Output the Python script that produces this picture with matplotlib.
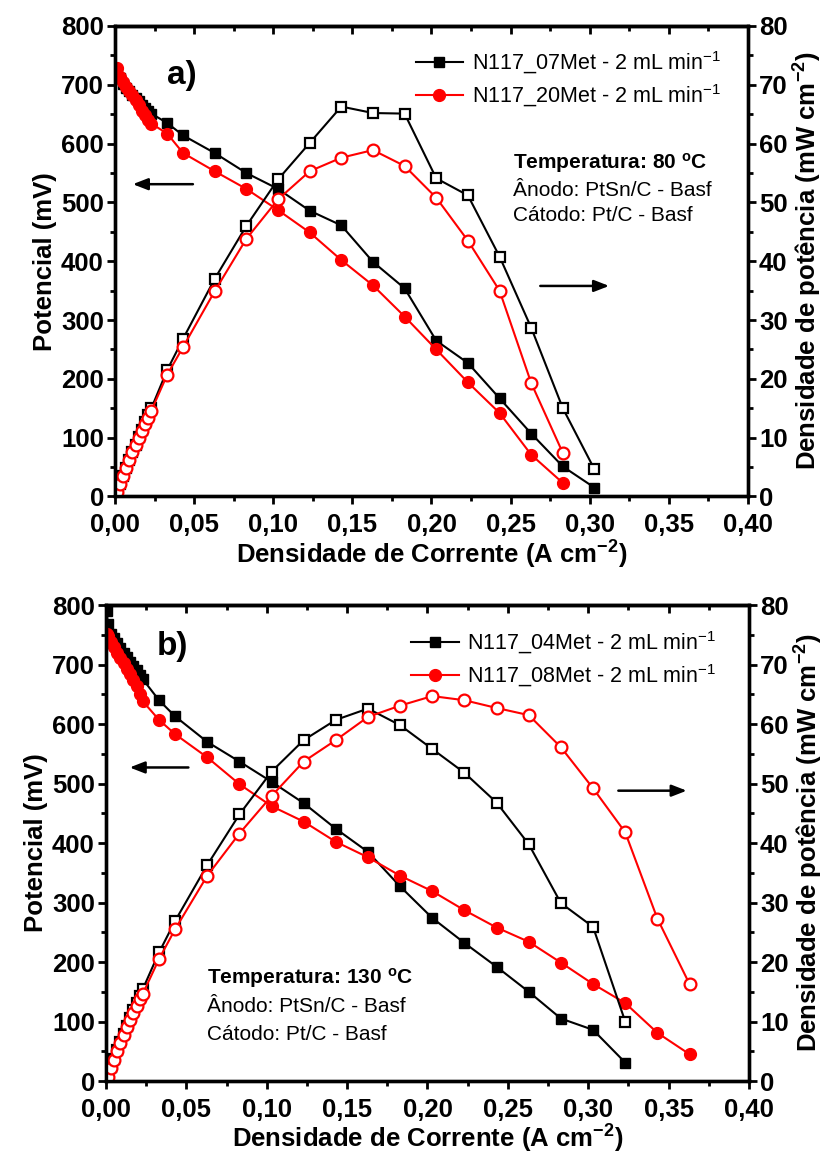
import matplotlib
matplotlib.use("Agg")
import matplotlib.pyplot as plt
from matplotlib.ticker import MultipleLocator, FuncFormatter

plt.rcParams['font.family'] = ['Liberation Sans', 'DejaVu Sans']
plt.rcParams['mathtext.default'] = 'regular'
plt.rcParams['axes.unicode_minus'] = False

# ---- panel a) 80 C ----
xa_dense = [0.001, 0.003, 0.005, 0.007, 0.009, 0.011, 0.013, 0.015, 0.017, 0.019, 0.021, 0.023]
xa_07 = xa_dense + [0.033, 0.043, 0.063, 0.083, 0.103, 0.123, 0.143, 0.163, 0.183,
                    0.203, 0.223, 0.243, 0.263, 0.283, 0.303]
va_07 = [722, 711, 702, 695, 689, 683, 677, 672, 666, 661, 656, 651,
         635, 614, 584, 550, 523, 486, 461, 399, 354, 265, 227, 167, 107, 51, 15]
pa_07 = [0.7, 2.1, 3.5, 4.9, 6.2, 7.5, 8.8, 10.1, 11.3, 12.6, 13.8, 15.0,
         21.5, 26.8, 37.0, 46.0, 53.9, 60.1, 66.3, 65.2, 65.1, 54.1, 51.2, 40.8, 28.7, 15.0, 4.6]

xa_20 = xa_dense + [0.033, 0.043, 0.063, 0.083, 0.103, 0.123, 0.143, 0.163, 0.183,
                    0.203, 0.223, 0.243, 0.263, 0.283]
va_20 = [728, 714, 705, 697, 690, 682, 674, 665, 656, 648, 640, 634,
         617, 584, 553, 523, 487, 449, 402, 359, 306, 250, 194, 142, 71, 23]
pa_20 = [0.7, 2.1, 3.5, 4.9, 6.2, 7.5, 8.8, 10.0, 11.2, 12.3, 13.4, 14.6,
         20.7, 25.4, 34.9, 43.8, 50.5, 55.3, 57.6, 58.9, 56.2, 50.8, 43.5, 35.0, 19.3, 7.4]

# ---- panel b) 130 C ----
xb_dense = [0.0005, 0.001, 0.003, 0.005, 0.007, 0.009, 0.011, 0.013, 0.015, 0.017, 0.019, 0.021, 0.023]
xb_04 = xb_dense + [0.033, 0.043, 0.063, 0.083, 0.103, 0.123, 0.143, 0.163, 0.183,
                    0.203, 0.223, 0.243, 0.263, 0.283, 0.303, 0.323]
vb_04 = [790, 768, 752, 744, 736, 728, 720, 712, 705, 698, 690, 682, 675,
         640, 613, 570, 537, 503, 467, 424, 385, 327, 274, 232, 192, 150, 105, 86, 31]
pb_04 = [0.4, 0.8, 2.3, 3.7, 5.2, 6.6, 7.9, 9.3, 10.6, 11.9, 13.1, 14.3, 15.5,
         21.6, 26.9, 36.3, 44.8, 52.0, 57.3, 60.7, 62.6, 59.8, 55.8, 51.8, 46.8, 39.8, 29.9, 25.9, 10.0]

xb_08 = xb_dense + [0.033, 0.043, 0.063, 0.083, 0.103, 0.123, 0.143, 0.163, 0.183,
                    0.203, 0.223, 0.243, 0.263, 0.283, 0.303, 0.323, 0.343, 0.363]
vb_08 = [752, 748, 738, 729, 720, 711, 702, 693, 684, 674, 664, 651, 638,
         607, 583, 544, 499, 462, 436, 402, 376, 345, 319, 287, 258, 234, 199, 163, 131, 81, 45]
pb_08 = [0.4, 0.7, 2.2, 3.6, 5.0, 6.4, 7.7, 9.0, 10.3, 11.5, 12.6, 13.7, 14.7,
         20.5, 25.5, 34.5, 41.6, 47.9, 53.7, 57.3, 61.2, 63.1, 64.7, 64.0, 62.7, 61.5, 56.1, 49.2, 41.8, 27.3, 16.3]

panels = [
    dict(rect=[0.1377, 0.572, 0.7581, 0.4056], tag="a)", tag_xy=(0.106, 0.894),
         series=[("N117_07Met", xa_07, va_07, pa_07), ("N117_20Met", xa_20, va_20, pa_20)],
         temp="80", note_x=0.629, note_y=[0.708, 0.651, 0.597],
         larrow=(0.051, 0.0095, 531), rarrow=(0.267, 0.314, 358)),
    dict(rect=[0.1269, 0.0681, 0.7701, 0.4103], tag="b)", tag_xy=(0.103, 0.912),
         series=[("N117_04Met", xb_04, vb_04, pb_04), ("N117_08Met", xb_08, vb_08, pb_08)],
         temp="130", note_x=0.157, note_y=[0.216, 0.156, 0.097],
         larrow=(0.053, 0.013, 527), rarrow=(0.317, 0.363, 488)),
]

colors = ["black", "red"]
markers = ["s", "o"]
msizes = [7.5, 8.5]

fig = plt.figure(figsize=(8.35, 11.6), dpi=100)
comma = FuncFormatter(lambda v, p: f"{v:.2f}".replace(".", ","))
arrow_style = dict(arrowstyle="-|>,head_length=0.9,head_width=0.35", color="black", lw=1.8)

for pn in panels:
    ax = fig.add_axes(pn["rect"])
    ax2 = ax.twinx()
    handles = []
    for i, (name, x, v, p) in enumerate(pn["series"]):
        h, = ax.plot(x, v, color=colors[i], marker=markers[i], ms=msizes[i], lw=1.5,
                     mfc=colors[i], mec=colors[i], label=name + r" - 2 mL min$^{-1}$")
        handles.append(h)
        ax2.plot(x, p, color=colors[i], marker=markers[i], ms=msizes[i], lw=1.5,
                 mfc="white", mec=colors[i], mew=1.6)

    ax.set_xlim(0, 0.40)
    ax.set_ylim(0, 800)
    ax2.set_ylim(0, 80)
    ax.xaxis.set_major_locator(MultipleLocator(0.05))
    ax.xaxis.set_minor_locator(MultipleLocator(0.025))
    ax.xaxis.set_major_formatter(comma)
    ax.yaxis.set_major_locator(MultipleLocator(100))
    ax.yaxis.set_minor_locator(MultipleLocator(50))
    ax2.yaxis.set_major_locator(MultipleLocator(10))
    ax2.yaxis.set_minor_locator(MultipleLocator(5))

    for a in (ax, ax2):
        for s in a.spines.values():
            s.set_linewidth(2.4)
    ax.tick_params(which="major", direction="out", length=6, width=2, labelsize=18.5, pad=2)
    ax.tick_params(axis="x", which="major", pad=6)
    ax.tick_params(which="minor", direction="out", length=3.5, width=2)
    ax2.tick_params(which="major", direction="out", length=6, width=2, labelsize=18.5, pad=2)
    ax2.tick_params(which="minor", direction="out", length=3.5, width=2)
    for lab in ax.get_xticklabels() + ax.get_yticklabels() + ax2.get_yticklabels():
        lab.set_fontweight("bold")

    top = ax.secondary_xaxis("top")
    top.xaxis.set_major_locator(MultipleLocator(0.05))
    top.xaxis.set_minor_locator(MultipleLocator(0.025))
    top.tick_params(which="major", direction="in", length=6, width=2, labeltop=False)
    top.tick_params(which="minor", direction="in", length=3.5, width=2)
    top.spines["top"].set_linewidth(2.4)

    ax.set_xlabel(r"Densidade de Corrente (A cm$^{-2}$)", fontsize=18.5, fontweight="bold", labelpad=1)
    ax.set_ylabel("Potencial (mV)", fontsize=18.5, fontweight="bold", labelpad=3)
    ax2.set_ylabel(r"Densidade de potência (mW cm$^{-2}$)", fontsize=18.5, fontweight="bold", labelpad=3)

    ax2.legend(handles=handles, loc="center left", bbox_to_anchor=(0.475, 0.887),
               frameon=False, fontsize=15.5, handlelength=2.2, handletextpad=0.4,
               labelspacing=0.3, borderpad=0, borderaxespad=0)

    ax2.text(pn["note_x"], pn["note_y"][0], "Temperatura: " + pn["temp"] + r" $^{o}$C",
             transform=ax.transAxes, fontsize=15, fontweight="bold", va="center")
    ax2.text(pn["note_x"], pn["note_y"][1], "Ânodo: PtSn/C - Basf",
             transform=ax.transAxes, fontsize=15, va="center")
    ax2.text(pn["note_x"], pn["note_y"][2], "Cátodo: Pt/C - Basf",
             transform=ax.transAxes, fontsize=15, va="center")
    ax2.text(pn["tag_xy"][0], pn["tag_xy"][1], pn["tag"], transform=ax.transAxes,
             fontsize=24, fontweight="bold", ha="center", va="center")

    x0, x1, yv = pn["larrow"]
    ax.annotate("", xy=(x1, yv), xytext=(x0, yv), arrowprops=arrow_style)
    x0, x1, yv = pn["rarrow"]
    ax.annotate("", xy=(x1, yv), xytext=(x0, yv), arrowprops=arrow_style)

fig.savefig("out.png", dpi=100)
